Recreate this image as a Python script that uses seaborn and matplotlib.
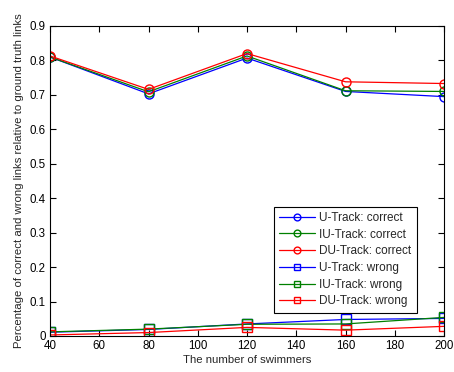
import matplotlib
matplotlib.use("Agg")
import matplotlib.pyplot as plt
import seaborn as sns
import pandas as pd

sns.set_theme(style="white")
plt.rcParams['font.family'] = ['Liberation Sans', 'DejaVu Sans']

swimmers = [40, 80, 120, 160, 200]
u_correct = [0.810, 0.703, 0.807, 0.710, 0.695]
iu_correct = [0.810, 0.709, 0.813, 0.712, 0.710]
du_correct = [0.813, 0.716, 0.820, 0.738, 0.733]
u_wrong = [0.011, 0.019, 0.035, 0.048, 0.051]
iu_wrong = [0.012, 0.020, 0.034, 0.035, 0.054]
du_wrong = [0.003, 0.010, 0.025, 0.017, 0.028]

series = [
    ("U-Track: correct", u_correct, "#0000ff", "o"),
    ("IU-Track: correct", iu_correct, "#008000", "o"),
    ("DU-Track: correct", du_correct, "#ff0000", "o"),
    ("U-Track: wrong", u_wrong, "#0000ff", "s"),
    ("IU-Track: wrong", iu_wrong, "#008000", "s"),
    ("DU-Track: wrong", du_wrong, "#ff0000", "s"),
]

fig = plt.figure(figsize=(4.54, 3.72), dpi=100)
ax = fig.add_axes([50/454, 1-336/372, 394/454, 310/372])

for name, vals, color, marker in series:
    df = pd.DataFrame({"x": swimmers, "y": vals})
    sns.lineplot(data=df, x="x", y="y", ax=ax, color=color, marker=marker,
                 markersize=6.5, markerfacecolor="none", markeredgecolor=color,
                 markeredgewidth=1.0, linewidth=0.9, label=name)

ax.set_xlim(40, 200)
ax.set_ylim(0, 0.9)
ax.set_xticks([40, 60, 80, 100, 120, 140, 160, 180, 200])
ax.set_yticks([0, 0.1, 0.2, 0.3, 0.4, 0.5, 0.6, 0.7, 0.8, 0.9])
ax.set_yticklabels(["0", "0.1", "0.2", "0.3", "0.4", "0.5", "0.6", "0.7", "0.8", "0.9"])
ax.tick_params(direction="in", length=4, width=0.8, labelsize=8.3, colors="black",
               top=True, right=True, left=True, bottom=True, pad=3)
for s in ax.spines.values():
    s.set_color("black")
    s.set_linewidth(0.8)
ax.set_xlabel("The number of swimmers", fontsize=8.2, labelpad=2)
ax.set_ylabel("Percentage of correct and wrong links relative to ground truth links", fontsize=8.2, labelpad=4)

leg = ax.legend(loc="lower right", bbox_to_anchor=(0.931, 0.075), fontsize=8.5,
                frameon=True, fancybox=False, edgecolor="black", framealpha=1,
                handlelength=3.0, borderpad=0.45, labelspacing=0.4, handletextpad=0.4,
                markerscale=0.75, borderaxespad=0)
leg.get_frame().set_linewidth(0.8)

fig.savefig("out.png", dpi=100)
